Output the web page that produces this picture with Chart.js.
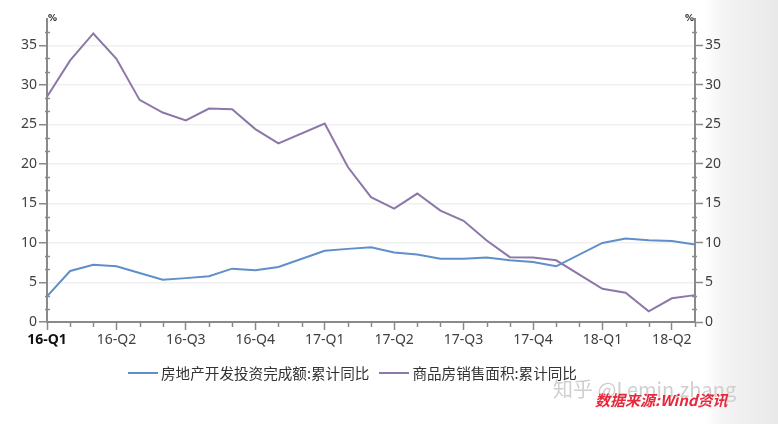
<!DOCTYPE html>
<html lang="zh">
<head>
<meta charset="UTF-8">
<title>房地产投资与销售面积</title>
<script src="https://cdn.jsdelivr.net/npm/chart.js"></script>
<style>
    body {
        margin: 0;
        width: 778px;
        height: 424px;
        overflow: hidden;
        background: linear-gradient(to right, #fff 0px, #fff 706px, #f4f4f4 722px, #e9e9e9 778px);
        font-family: "Noto Sans CJK SC", "Noto Sans", sans-serif;
    }
    .wrap { position: relative; width: 778px; height: 424px; }
    canvas { position: absolute; left: 0; top: 0; }
    .legend {
        position: absolute; left: 128px; top: 362px;
        display: flex; align-items: center; font-size: 14.6px; color: #333;
    }
    .legend .item { display: flex; align-items: center; margin-right: 10px; }
    .legend .swatch { width: 30px; height: 2px; margin-right: 3px; }
    .mark {
        position: absolute; left: 553px; top: 374px;
        font-size: 20px; color: #cfcfcf; white-space: nowrap;
    }
    .source {
        position: absolute; left: 595px; top: 389px;
        font-size: 15px; font-style: italic; font-weight: bold; color: #e8283c; white-space: nowrap;
    }
</style>
</head>
<body>
<div class="wrap">
    <canvas id="chart" width="778" height="424"></canvas>
    <div class="legend" id="legend"></div>
    <div class="mark">知乎 @Lemin.zhang</div>
    <div class="source">数据来源:Wind资讯</div>
</div>
<script>
// monthly points, Jan of each year has no data (reported with Feb)
const categories = ['16-Q1', '', '', '16-Q2', '', '', '16-Q3', '', '', '16-Q4', '', '',
    '17-Q1', '', '', '17-Q2', '', '', '17-Q3', '', '', '17-Q4', '', '',
    '18-Q1', '', '', '18-Q2', ''];

const investYoY = [3.25, 6.45, 7.25, 7.05, 6.2, 5.35, 5.55, 5.8, 6.75, 6.55, 6.95, null,
    9.0, 9.25, 9.45, 8.8, 8.55, 8.0, 8.0, 8.15, 7.8, 7.6, 7.05, null,
    10.0, 10.55, 10.35, 10.25, 9.8];

const salesAreaYoY = [28.5, 33.1, 36.5, 33.3, 28.1, 26.5, 25.5, 27.0, 26.9, 24.4, 22.6, null,
    25.1, 19.6, 15.8, 14.35, 16.25, 14.1, 12.8, 10.3, 8.2, 8.15, 7.8, null,
    4.2, 3.7, 1.35, 3.0, 3.4];

const seriesNames = ['房地产开发投资完成额:累计同比', '商品房销售面积:累计同比'];
const seriesColors = ['#5f8fc9', '#8c77a9'];

const yMax = 38.33;
const axisColor = '#8a8a8a';
const textColor = '#404040';
const tickFont = { family: '"Noto Sans", "Noto Sans CJK SC", sans-serif', size: 14 };

// short minor ticks and the % unit marks
const minorTicks = {
    id: 'minorTicks',
    afterDraw(chart) {
        const ctx = chart.ctx;
        const x = chart.scales.x, y = chart.scales.y, y2 = chart.scales.y2;
        ctx.save();
        ctx.strokeStyle = axisColor;
        ctx.lineWidth = 1.5;
        ctx.beginPath();
        categories.forEach((c, i) => {
            if (i % 3 === 0) return;
            const px = Math.round(x.getPixelForValue(i)) + 0.5;
            ctx.moveTo(px, y.bottom);
            ctx.lineTo(px, y.bottom + 5);
        });
        for (let k = 1; k * 5 / 3 <= yMax; k++) {
            if (k % 3 === 0) continue;
            const py = Math.round(y.getPixelForValue(k * 5 / 3)) + 0.5;
            ctx.moveTo(y.right - 2, py);
            ctx.lineTo(y.right + 3, py);
            ctx.moveTo(y2.left - 3, py);
            ctx.lineTo(y2.left + 2, py);
        }
        ctx.stroke();
        ctx.fillStyle = '#222';
        ctx.font = 'bold 9px "DejaVu Sans", sans-serif';
        ctx.textBaseline = 'bottom';
        ctx.textAlign = 'left';
        ctx.fillText('%', y.right + 1, y.top + 4);
        ctx.textAlign = 'right';
        ctx.fillText('%', y2.left - 1, y2.top + 4);
        ctx.restore();
    }
};

const yTicksOnly5 = scale => {
    scale.ticks = scale.ticks.filter(t => Math.abs(t.value % 5) < 1e-6);
};

new Chart(document.getElementById('chart'), {
    type: 'line',
    data: {
        labels: categories,
        datasets: [{
            label: seriesNames[0],
            data: investYoY,
            borderColor: seriesColors[0],
            backgroundColor: seriesColors[0],
            borderWidth: 2,
            pointRadius: 0,
            tension: 0,
            spanGaps: true,
            yAxisID: 'y'
        }, {
            label: seriesNames[1],
            data: salesAreaYoY,
            borderColor: seriesColors[1],
            backgroundColor: seriesColors[1],
            borderWidth: 2,
            pointRadius: 0,
            tension: 0,
            spanGaps: true,
            yAxisID: 'y'
        }]
    },
    options: {
        responsive: false,
        animation: false,
        layout: { padding: { top: 19, left: 0, right: 0, bottom: 0 } },
        plugins: {
            legend: { display: false },
            tooltip: { enabled: false }
        },
        scales: {
            x: {
                offset: false,
                afterFit: s => { s.height = 102; },
                grid: {
                    drawOnChartArea: false,
                    tickLength: 8,
                    tickWidth: 1.5,
                    tickColor: c => (c.index % 3 === 0 ? axisColor : 'rgba(0,0,0,0)')
                },
                border: { color: axisColor, width: 2 },
                ticks: {
                    autoSkip: false,
                    maxRotation: 0,
                    padding: 2,
                    color: c => (c.index === 0 ? '#111' : textColor),
                    font: c => (c.index === 0 ? { ...tickFont, weight: 'bold' } : tickFont)
                }
            },
            y: {
                position: 'left',
                min: 0,
                max: yMax,
                afterFit: s => { s.width = 47; },
                afterBuildTicks: yTicksOnly5,
                grid: {
                    color: c => (c.tick && c.tick.value === 0 ? 'rgba(0,0,0,0)' : '#f0f0f0'),
                    lineWidth: 1.5,
                    tickColor: axisColor,
                    tickLength: 8,
                    tickWidth: 1.5
                },
                border: { color: axisColor, width: 2 },
                ticks: { stepSize: 5, padding: 2, color: textColor, font: tickFont }
            },
            y2: {
                position: 'right',
                min: 0,
                max: yMax,
                afterFit: s => { s.width = 83; },
                afterBuildTicks: yTicksOnly5,
                grid: {
                    drawOnChartArea: false,
                    tickColor: axisColor,
                    tickLength: 8,
                    tickWidth: 1.5
                },
                border: { color: axisColor, width: 2 },
                ticks: { stepSize: 5, padding: 2, color: textColor, font: tickFont }
            }
        }
    },
    plugins: [minorTicks]
});

// legend from the series names and colours
const legend = document.getElementById('legend');
seriesNames.forEach((name, i) => {
    const item = document.createElement('div');
    item.className = 'item';
    item.innerHTML = '<span class="swatch" style="background:' + seriesColors[i] + '"></span>' + name;
    legend.appendChild(item);
});
</script>
</body>
</html>
